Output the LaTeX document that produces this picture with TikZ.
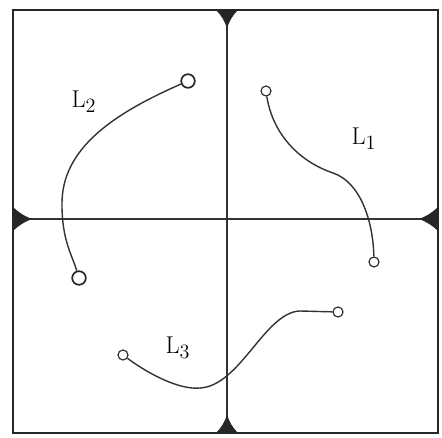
\documentclass[tikz,border=0pt]{standalone}
\usepackage{tikz}
\usetikzlibrary{positioning,calc}

\begin{document}
\begin{tikzpicture}[
  x=0.025cm, y=-0.025cm,
  frame/.style={draw=black!85, line width=2pt},
  axis/.style={draw=black!80, line width=0.8pt},
  marker/.style={fill=black!85, draw=none},
  endpt/.style={circle, draw=black!85, line width=0.8pt, inner sep=0pt, minimum size=0.25cm},
  bigpt/.style={circle, draw=black!85, line width=1.2pt, inner sep=0pt, minimum size=0.34cm},
  track/.style={draw=black!80, line width=1pt},
  lbl/.style={font=\fontsize{19}{22}\selectfont, inner sep=0pt}
]
\useasboundingbox (0,0) rectangle (442,438);
\coordinate (tl) at (13,10);
\coordinate (br) at (438,433);
\coordinate (top) at (227,10);
\coordinate (bot) at (227,433);
\coordinate (lft) at (13,219);
\coordinate (rgt) at (438,219);
% frame and cross
\draw[axis] (top) -- (bot);
\draw[axis] (lft) -- (rgt);
\draw[frame] (tl) rectangle (br);
% flared markers on the frame
\fill[marker] (216,10) .. controls (221,15) and (225,21) .. (227,29) .. controls (229,21) and (233,15) .. (238,10) -- cycle;
\fill[marker] (216,433) .. controls (221,428) and (225,422) .. (227,414) .. controls (229,422) and (233,428) .. (238,433) -- cycle;
\fill[marker] (13,207) .. controls (18,212) and (24,216) .. (32,219) .. controls (24,222) and (18,226) .. (13,231) -- cycle;
\fill[marker] (438,207) .. controls (433,212) and (427,216) .. (419,219) .. controls (427,222) and (433,226) .. (438,231) -- cycle;
% end points
\node[bigpt] (l2a) at (188,81) {};
\node[bigpt] (l2b) at (79,278) {};
\node[endpt] (l1a) at (266,91) {};
\node[endpt] (l1b) at (374,262) {};
\node[endpt] (l3a) at (123,355) {};
\node[endpt] (l3b) at (338,312) {};
% tracks
\draw[track] (l2a) .. controls (115,113) and (61,148) .. (62,205) .. controls (62,240) and (72,255) .. (l2b);
\draw[track] (l1a) .. controls (272,130) and (295,160) .. (333,173) .. controls (360,182) and (373,220) .. (l1b);
\draw[track] (l3a) .. controls (150,375) and (180,390) .. (200,388) .. controls (240,386) and (265,312) .. (300,311) -- (l3b);
% labels
\node[lbl] (t2) at (84,102) {$\mathrm{L}_2$};
\node[lbl] (t1) at (364,139) {$\mathrm{L}_1$};
\node[lbl] (t3) at (178,348) {$\mathrm{L}_3$};
\end{tikzpicture}
\end{document}
